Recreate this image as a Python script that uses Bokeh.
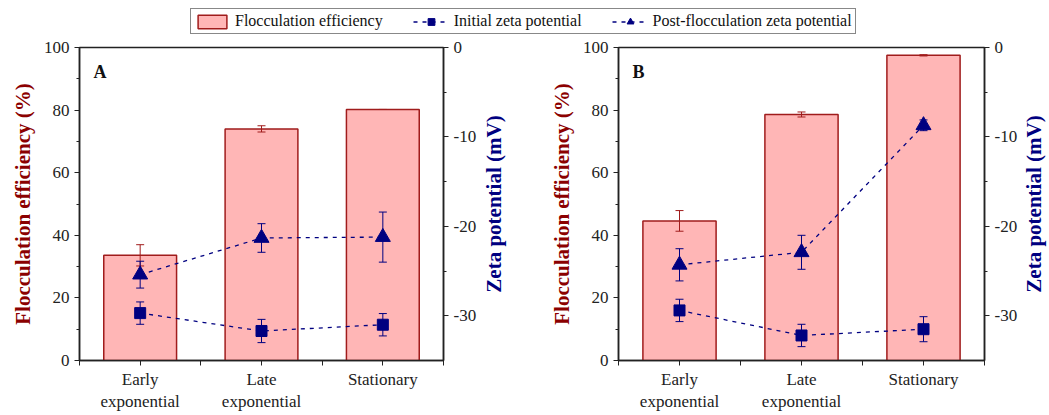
import math
from bokeh.plotting import figure
from bokeh.models import (Range1d, LinearAxis, FixedTicker, ColumnDataSource,
                          Legend, LegendItem, Label)
from bokeh.layouts import column, row
from bokeh.embed import file_html
from bokeh.resources import INLINE

# ---------------- data ----------------
stages = [1, 2, 3]
stage_labels = ["Early\nexponential", "Late\nexponential", "Stationary"]

a_floc = [33.6, 74.0, 80.2]
a_floc_err = [3.4, 1.0, 0.0]
a_init = [-29.7, -31.7, -31.0]
a_init_err = [1.25, 1.3, 1.25]
a_post = [-25.4, -21.3, -21.2]
a_post_err = [1.5, 1.6, 2.8]

b_floc = [44.6, 78.6, 97.5]
b_floc_err = [3.3, 0.8, 0.2]
b_init = [-29.4, -32.2, -31.5]
b_init_err = [1.25, 1.25, 1.4]
b_post = [-24.3, -22.9, -8.7]
b_post_err = [1.8, 1.9, 0.6]

left_ticks = [0, 20, 40, 60, 80, 100]
left_minor = [10, 30, 50, 70, 90]
right_ticks = [-30, -20, -10, 0]
right_tick_labels = ["-30", "-20", "-10", "0"]
right_minor = [-25, -15, -5]
zeta_range = (-35, 0)

FONT = "Liberation Serif"
BAR_FILL = "#FFB6B6"
BAR_LINE = "#A01C1C"
NAVY = "#000080"
DARKRED = "#8B0000"
DASH = "4 5"
H = 380
TOP = 12


def err_bars(p, src, lo, hi, color, **kw):
    p.segment(x0="x", y0=lo, x1="x", y1=hi, source=src, line_color=color,
              line_width=1, **kw)
    for col in (lo, hi):
        p.scatter("x", col, source=src, marker="dash", size=8, line_color=color,
                  line_width=1, **kw)


def make_source(floc, floc_err, init, init_err, post, post_err):
    return ColumnDataSource(dict(
        x=stages, floc=floc,
        floc_lo=[v - e for v, e in zip(floc, floc_err)],
        floc_hi=[v + e for v, e in zip(floc, floc_err)],
        init=init,
        init_lo=[v - e for v, e in zip(init, init_err)],
        init_hi=[v + e for v, e in zip(init, init_err)],
        post=post,
        post_lo=[v - e for v, e in zip(post, post_err)],
        post_hi=[v + e for v, e in zip(post, post_err)],
    ))


def panel(letter, src, width, bl, br, bb):
    p = figure(width=width, height=H, x_range=Range1d(0.5, 3.5),
               y_range=Range1d(0, 100), output_backend="svg",
               toolbar_location=None, min_border_left=bl, min_border_right=br,
               min_border_top=TOP, min_border_bottom=bb)
    p.extra_y_ranges = {"zeta": Range1d(*zeta_range)}
    p.xgrid.visible = False
    p.ygrid.visible = False
    p.outline_line_color = "#222222"
    p.outline_line_width = 1.5

    p.vbar(x="x", top="floc", width=0.6, source=src, fill_color=BAR_FILL,
           line_color=BAR_LINE, line_width=1.5)
    err_bars(p, src, "floc_lo", "floc_hi", BAR_LINE)

    p.line("x", "init", source=src, y_range_name="zeta", line_color=NAVY,
           line_width=1.3, line_dash=DASH)
    err_bars(p, src, "init_lo", "init_hi", NAVY, y_range_name="zeta")
    p.scatter("x", "init", source=src, y_range_name="zeta", marker="square",
              size=11, fill_color=NAVY, line_color=NAVY)

    p.line("x", "post", source=src, y_range_name="zeta", line_color=NAVY,
           line_width=1.3, line_dash=DASH)
    err_bars(p, src, "post_lo", "post_hi", NAVY, y_range_name="zeta")
    p.scatter("x", "post", source=src, y_range_name="zeta", marker="triangle",
              size=15, fill_color=NAVY, line_color=NAVY)

    xa = p.xaxis[0]
    xa.ticker = FixedTicker(ticks=stages, minor_ticks=[0.5, 1.5, 2.5, 3.5])
    xa.major_label_overrides = {s: l for s, l in zip(stages, stage_labels)}
    ya = p.yaxis[0]
    ya.ticker = FixedTicker(ticks=left_ticks, minor_ticks=left_minor)
    ya.axis_label = "Flocculation efficiency (%)"
    ya.axis_label_text_color = DARKRED
    ra = LinearAxis(y_range_name="zeta",
                    ticker=FixedTicker(ticks=right_ticks, minor_ticks=right_minor))
    ra.major_label_overrides = {t: l for t, l in zip(right_ticks, right_tick_labels)}
    p.add_layout(ra, "right")

    for ax in (xa, ya, ra):
        ax.axis_line_color = "#222222"
        ax.axis_line_width = 1.5
        ax.major_tick_line_color = "#222222"
        ax.minor_tick_line_color = "#222222"
        ax.major_tick_in = 0
        ax.major_tick_out = 5
        ax.minor_tick_in = 0
        ax.minor_tick_out = 3
        ax.major_label_text_font = FONT
        ax.major_label_text_font_size = "17px"
        ax.major_label_text_color = "#222222"
        ax.major_label_standoff = 5
        ax.axis_label_text_font = FONT
        ax.axis_label_text_font_size = "21px"
        ax.axis_label_text_font_style = "bold"
        ax.axis_label_standoff = 6
    xa.minor_tick_out = 5
    xa.major_label_standoff = 4

    p.add_layout(Label(x=0.615, y=95.5, text=letter, text_font=FONT,
                       text_font_size="18px", text_font_style="bold",
                       text_baseline="top", text_color="#111111"))
    return p


def title_strip(width, bb, lx):
    # narrow strip carrying the right-hand axis title, reading upward
    s = figure(width=width, height=H, x_range=Range1d(0, width),
               y_range=Range1d(*zeta_range), output_backend="svg",
               toolbar_location=None, min_border_left=0, min_border_right=0,
               min_border_top=TOP, min_border_bottom=bb)
    s.axis.visible = False
    s.grid.visible = False
    s.outline_line_color = None
    s.add_layout(Label(x=lx, y=sum(zeta_range) / 2, text="Zeta potential (mV)",
                       angle=math.pi / 2, text_align="center",
                       text_baseline="middle", text_font=FONT,
                       text_font_size="21px", text_font_style="bold",
                       text_color=NAVY))
    return s


src_a = make_source(a_floc, a_floc_err, a_init, a_init_err, a_post, a_post_err)
src_b = make_source(b_floc, b_floc_err, b_init, b_init_err, b_post, b_post_err)
pa = panel("A", src_a, 483, 79, 40, 55)
sa = title_strip(42, 55, 10)
pb = panel("B", src_b, 496, 93, 37, 52)
sb = title_strip(28, 52, 12)

# ---------------- legend strip ----------------
# hidden proxy renderers (panel A's data) that only supply the legend glyphs
lg = figure(width=1049, height=35, x_range=Range1d(6, 7),
            y_range=Range1d(-60, -59), output_backend="svg",
            toolbar_location=None, min_border=0)
lg.axis.visible = False
lg.grid.visible = False
lg.outline_line_color = None
r_bar = lg.vbar(x="x", top="floc", width=0.6, source=src_a, fill_color=BAR_FILL,
                line_color=BAR_LINE, line_width=1.5)
r_l1 = lg.line("x", "init", source=src_a, line_color=NAVY, line_width=1.3,
               line_dash=DASH)
r_s1 = lg.scatter("x", "init", source=src_a, marker="square", size=11,
                  fill_color=NAVY, line_color=NAVY)
r_l2 = lg.line("x", "post", source=src_a, line_color=NAVY, line_width=1.3,
               line_dash=DASH)
r_s2 = lg.scatter("x", "post", source=src_a, marker="triangle", size=15,
                  fill_color=NAVY, line_color=NAVY)
for r in (r_bar, r_l1, r_s1, r_l2, r_s2):
    r.visible = False
legend = Legend(items=[
    LegendItem(label="Flocculation efficiency", renderers=[r_bar]),
    LegendItem(label="Initial zeta potential", renderers=[r_l1, r_s1]),
    LegendItem(label="Post-flocculation zeta potential", renderers=[r_l2, r_s2]),
], orientation="horizontal", location=(190, 1), glyph_width=36, glyph_height=17,
    label_standoff=5, spacing=30, padding=3, margin=0,
    label_text_font=FONT, label_text_font_size="16px", label_text_color="#111111",
    border_line_color="#111111", border_line_width=1, background_fill_alpha=1,
    inactive_fill_alpha=0)
lg.add_layout(legend, "center")

layout = column(lg, row(pa, sa, pb, sb))
open("out.html", "w").write(file_html(layout, INLINE))
